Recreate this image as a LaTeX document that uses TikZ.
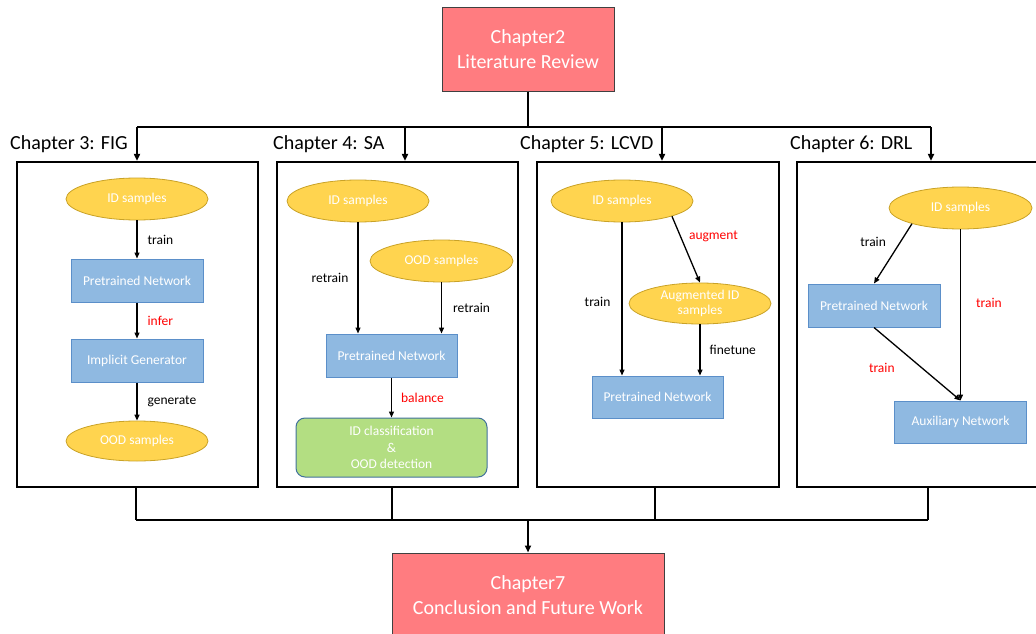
\documentclass[tikz,border=0pt]{standalone}
\usepackage{fontspec}
\setmainfont{Carlito}
\usetikzlibrary{shapes.geometric,arrows.meta}
\definecolor{redfill}{HTML}{FF7C80}
\definecolor{ellfill}{HTML}{FFD44F}
\definecolor{ellbord}{HTML}{C9A227}
\definecolor{bluefill}{HTML}{8FB9E1}
\definecolor{bluebord}{HTML}{5B8FC9}
\definecolor{greenfill}{HTML}{B3DE82}
\definecolor{greenbord}{HTML}{41719C}
\definecolor{lblred}{HTML}{FF0000}
\tikzset{
  conn/.style={line width=1.3pt, -{Triangle[length=6pt,width=5pt]}},
  bus/.style={line width=1.8pt},
  busarrow/.style={line width=1.8pt, -{Triangle[length=7pt,width=6pt]}},
  chapbox/.style={draw=black, line width=2.2pt, inner sep=0pt},
  bigbox/.style={draw=black!75, line width=1pt, fill=redfill, text=white, align=center,
     font=\fontsize{20}{25}\selectfont, inner sep=0pt},
  chaplabel/.style={font=\fontsize{20}{24}\selectfont, anchor=base west, inner sep=0pt},
  ell/.style={ellipse, draw=ellbord, fill=ellfill, line width=0.8pt, text=white, align=center,
     font=\fontsize{13.5}{16}\selectfont, inner sep=0pt, minimum width=142pt, minimum height=42pt},
  netbox/.style={rectangle, draw=bluebord, fill=bluefill, line width=1pt, text=white,
     font=\fontsize{13.5}{16}\selectfont, inner sep=0pt, minimum width=132pt, minimum height=43pt},
  resbox/.style={rectangle, rounded corners=9pt, draw=greenbord, fill=greenfill, line width=1pt,
     text=white, align=center, font=\fontsize{13.5}{16.5}\selectfont, inner sep=0pt,
     minimum width=191pt, minimum height=59pt},
  lbl/.style={font=\fontsize{13.5}{16}\selectfont, inner sep=0pt},
  rlbl/.style={lbl, text=lblred},
}
\begin{document}
\begin{tikzpicture}[x=1pt,y=-1pt]
\useasboundingbox (0,0) rectangle (1036,634);
% top and bottom chapters
\node[bigbox, minimum width=172pt, minimum height=83pt] (ch2) at (528,49.5) {Chapter2\\Literature Review};
\node[bigbox, minimum width=272pt, minimum height=85pt] (ch7) at (528,595.5) {Chapter7\\Conclusion and Future Work};
% chapter frames
\node[chapbox, minimum width=241pt, minimum height=325pt] (c3) at (137.5,324.5) {};
\node[chapbox, minimum width=241pt, minimum height=325pt] (c4) at (397.5,324.5) {};
\node[chapbox, minimum width=242pt, minimum height=325pt] (c5) at (658,324.5) {};
\node[chapbox, minimum width=242pt, minimum height=325pt] (c6) at (918,324.5) {};
% chapter labels
\node[chaplabel] (l3) at (10,149) {Chapter 3: FIG};
\node[chaplabel] (l4) at (273,149) {Chapter 4: SA};
\node[chaplabel] (l5) at (520,149) {Chapter 5: LCVD};
\node[chaplabel] (l6) at (790,149) {Chapter 6: DRL};
% top bus
\coordinate (tj) at (528,127);
\coordinate (t3) at (137,127);
\coordinate (t4) at (405,127);
\coordinate (t5) at (662,127);
\coordinate (t6) at (931,127);
\draw[bus] (ch2.south) -- (tj);
\draw[bus] (t3) -- (t6);
\draw[busarrow] (t3) -- (t3 |- c3.north);
\draw[busarrow] (t4) -- (t4 |- c4.north);
\draw[busarrow] (t5) -- (t5 |- c5.north);
\draw[busarrow] (t6) -- (t6 |- c6.north);
% bottom bus
\coordinate (b3) at (136,520);
\coordinate (b4) at (392,520);
\coordinate (b5) at (655,520);
\coordinate (b6) at (928,520);
\coordinate (bj) at (528,520);
\draw[bus] (b3 |- c3.south) -- (b3);
\draw[bus] (b4 |- c4.south) -- (b4);
\draw[bus] (b5 |- c5.south) -- (b5);
\draw[bus] (b6 |- c6.south) -- (b6);
\draw[bus] (b3) -- (b6);
\draw[busarrow] (bj) -- (ch7.north);
% Chapter 3
\node[ell] (id3) at (137,199) {ID samples};
\node[netbox] (pn3) at (137,280.5) {Pretrained Network};
\node[netbox] (ig3) at (137,360.5) {Implicit Generator};
\node[ell, minimum height=40pt] (ood3) at (137,441) {OOD samples};
\draw[conn] (id3) -- node[lbl, right=10pt] {train} (pn3);
\draw[conn] (pn3) -- node[rlbl, right=10pt] {infer} (ig3);
\draw[conn] (ig3) -- node[lbl, right=10pt] {generate} (ood3);
% Chapter 4
\node[ell] (id4) at (358,201) {ID samples};
\node[ell, minimum width=143pt] (ood4) at (441.5,261) {OOD samples};
\node[netbox, minimum width=131pt] (pn4) at (391.5,355.5) {Pretrained Network};
\node[resbox] (res4) at (391.5,447.5) {ID classification\\\&\\OOD detection};
\draw[conn] (id4.south) -- node[lbl, left=9pt, pos=0.5] {retrain} (id4.south |- pn4.north);
\draw[conn] (ood4.south) -- node[lbl, right=11pt, pos=0.5] {retrain} (ood4.south |- pn4.north);
\draw[conn] (pn4) -- node[rlbl, right=9pt] {balance} (res4);
% Chapter 5
\node[ell] (id5) at (622,201) {ID samples};
\node[ell, minimum height=41pt, font=\fontsize{13.5}{15.5}\selectfont] (aug5) at (700,303.5) {Augmented ID\\samples};
\node[netbox, minimum width=131pt, minimum height=42pt] (pn5) at (657.5,397) {Pretrained Network};
\draw[conn] (id5.south) -- node[lbl, left=11pt, pos=0.52] {train} (id5.south |- pn5.north);
\draw[conn] (id5.343) -- node[rlbl, right=8pt, pos=0.3] {augment} (aug5.north);
\draw[conn] (aug5.south) -- node[lbl, right=9pt] {finetune} (aug5.south |- pn5.north);
% Chapter 6
\node[ell, minimum width=143pt] (id6) at (960.5,208) {ID samples};
\node[netbox] (pn6) at (874,305.5) {Pretrained Network};
\node[netbox, minimum height=42pt] (aux6) at (960.5,422) {Auxiliary Network};
\draw[conn] (id6.198) -- node[lbl, pos=0.3, left=14pt] {train} (pn6.north);
\draw[conn] (id6.south) -- node[rlbl, pos=0.43, right=15pt] {train} (aux6.north);
\draw[conn] (pn6.south) -- node[rlbl, pos=0.5, left=22pt, yshift=-4pt] {train} (aux6.north);
\end{tikzpicture}
\end{document}
